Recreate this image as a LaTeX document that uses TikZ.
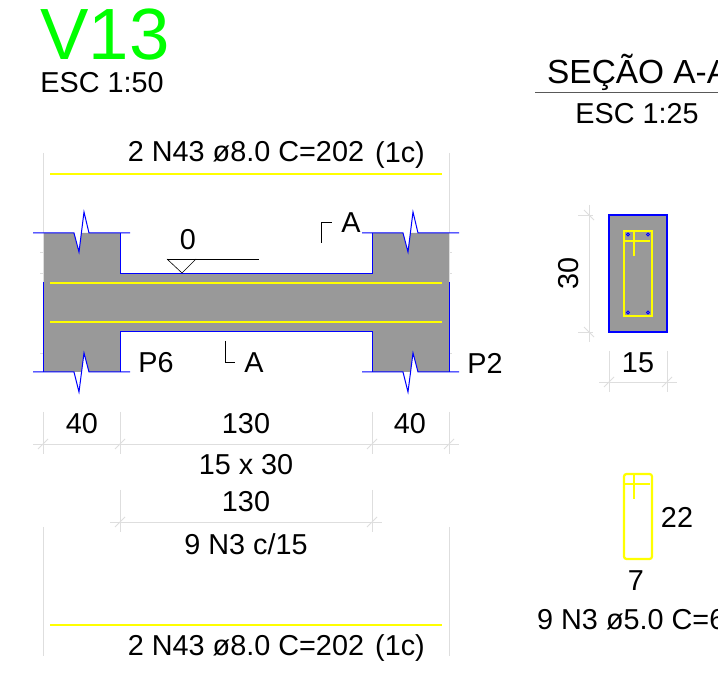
\documentclass[tikz,border=0pt]{standalone}
\usepackage{fontspec}
\setmainfont{Liberation Sans}
\definecolor{concreto}{RGB}{153,153,153}
\definecolor{cota}{RGB}{222,222,222}
\definecolor{aco}{RGB}{255,255,0}
\definecolor{borda}{RGB}{0,0,255}
\definecolor{titulo}{RGB}{0,255,0}
\tikzset{
  rotulo/.style={inner sep=0pt,font=\fontsize{28.8}{28.8}\selectfont},
  cotaline/.style={cota,line width=0.9pt},
  barra/.style={aco,line width=2.4pt},
  contorno/.style={borda,line width=1pt}
}
\begin{document}
\begin{tikzpicture}[x=1pt,y=-1pt]
\useasboundingbox (0,0) rectangle (718,700);
\clip (0,0) rectangle (718,700);
\fill [white] (0,0) rectangle (718,700);
\fill [concreto] (43,233)--(74,233)--(79,252)--(81.4,233)--(120,233)--(120,274)--(372,274)--(372,233)--(403,233)--(408,252)--(410.4,233)--(449,233)--(449,372)--(418,372)--(413,353)--(410.6,372)--(372,372)--(372,332)--(120,332)--(120,372)--(89,372)--(84,353)--(81.6,372)--(43,372)--cycle;
\draw [cotaline] (43,153)--(43,282);
\draw [cotaline] (449,153)--(449,282);
\foreach \y in {252,273,353} {
  \draw [cotaline] (40,\y)--(43,\y);
  \draw [cotaline] (449,\y)--(452,\y);
}
\draw [contorno] (33,233)--(74,233)--(79,252)--(84,212)--(89,233)--(130,233);
\draw [contorno] (33,372)--(74,372)--(79,392)--(84,353)--(89,372)--(130,372);
\draw [contorno] (362,233)--(403,233)--(408,252)--(413,212)--(418,233)--(459,233);
\draw [contorno] (362,372)--(403,372)--(408,392)--(413,353)--(418,372)--(459,372);
\draw [contorno] (120,233)--(120,274)--(372,274)--(372,233);
\draw [contorno] (120,372)--(120,332)--(372,332)--(372,372);
\draw [contorno] (43,282)--(43,372);
\draw [contorno] (449,282)--(449,372);
\foreach \y in {174,283,322,625} {
  \draw [barra] (50,\y)--(442,\y);
}
% nivel
\draw [black,line width=0.6pt] (167,259)--(182,273)--(196,259);
\draw [black,line width=0.6pt] (167,259)--(259,259);
% corte
\draw [black,line width=0.6pt] (321,243)--(321,222)--(332,222);
\draw [black,line width=0.6pt] (225,341)--(225,362)--(235,362);
% cotas
\draw [cotaline] (33,444)--(459,444);
\foreach \x in {43,120,372,449} {
  \draw [cotaline] (\x,412)--(\x,454);
  \draw [cotaline] (\x-5,449)--(\x+5,439);
}
\draw [cotaline] (110,522)--(382,522);
\foreach \x in {120,372} {
  \draw [cotaline] (\x,490)--(\x,532);
  \draw [cotaline] (\x-5,527)--(\x+5,517);
}
\draw [cotaline] (43,527)--(43,656);
\draw [cotaline] (449,527)--(449,656);
% secao
\draw [fill=concreto,draw=borda,line width=1.1pt] (609,215) rectangle (667,332);
\draw [barra] (624,231) rectangle (652,316);
\draw [barra] (624,241)--(650,241);
\draw [barra] (634,231)--(634,256);
\foreach \x in {628,648} {
  \foreach \y in {234.5,312.5} {
    \draw [borda,line width=0.8pt] (\x,\y) circle (1.5);
  }
}
\draw [cotaline] (589,205)--(589,342);
\draw [cotaline] (578,215)--(593,215);
\draw [cotaline] (578,332)--(593,332);
\draw [cotaline] (584,210)--(594,220);
\draw [cotaline] (584,327)--(594,337);
\draw [cotaline] (599,382)--(677,382);
\foreach \x in {609,667} {
  \draw [cotaline] (\x,351)--(\x,392);
  \draw [cotaline] (\x-5,387)--(\x+5,377);
}
% estribo
\draw [aco,line width=2.2pt,rounded corners=2.5pt] (624,474) rectangle (652,559);
\draw [aco,line width=2pt] (624,484)--(650,484);
\draw [aco,line width=2pt] (634,474)--(634,499);
\draw [black!65,line width=1pt] (535,93)--(718,93);
% textos
\node [rotulo,titulo,font=\fontsize{72.6}{72.6}\selectfont] (v13) at (105,35) {V13};
\node [rotulo] (esc50) at (102,83) {ESC 1:50};
\node [rotulo] (sup) at (246,152) {2 N43 ø8.0 C=202};
\node [rotulo] (sup1c) at (400,155) {(1c)};
\node [rotulo] (nivel) at (188,240) {0};
\node [rotulo] (corte1) at (351,223) {A};
\node [rotulo] (corte2) at (254,363) {A};
\node [rotulo] (p6) at (156,363) {P6};
\node [rotulo] (p2) at (485,363) {P2};
\node [rotulo] (vao1) at (82,424) {40};
\node [rotulo] (vao2) at (246,424) {130};
\node [rotulo] (vao3) at (410,424) {40};
\node [rotulo] (dim) at (246,465) {15 x 30};
\node [rotulo] (vao4) at (246,502) {130};
\node [rotulo] (estr) at (246,544) {9 N3 c/15};
\node [rotulo] (inf) at (246,646) {2 N43 ø8.0 C=202};
\node [rotulo] (inf1c) at (400,648) {(1c)};
\node [rotulo,anchor=west,font=\fontsize{33.4}{33.4}\selectfont] (secao) at (547,72) {SEÇÃO A-A};
\node [rotulo] (esc25) at (637,114) {ESC 1:25};
\node [rotulo,rotate=90] (alt) at (569,273) {30};
\node [rotulo] (larg) at (638,363) {15};
\node [rotulo] (l22) at (677,517) {22};
\node [rotulo] (l7) at (636,581) {7};
\node [rotulo,anchor=west] (estr2) at (537,620) {9 N3 ø5.0 C=6};
\end{tikzpicture}
\end{document}
